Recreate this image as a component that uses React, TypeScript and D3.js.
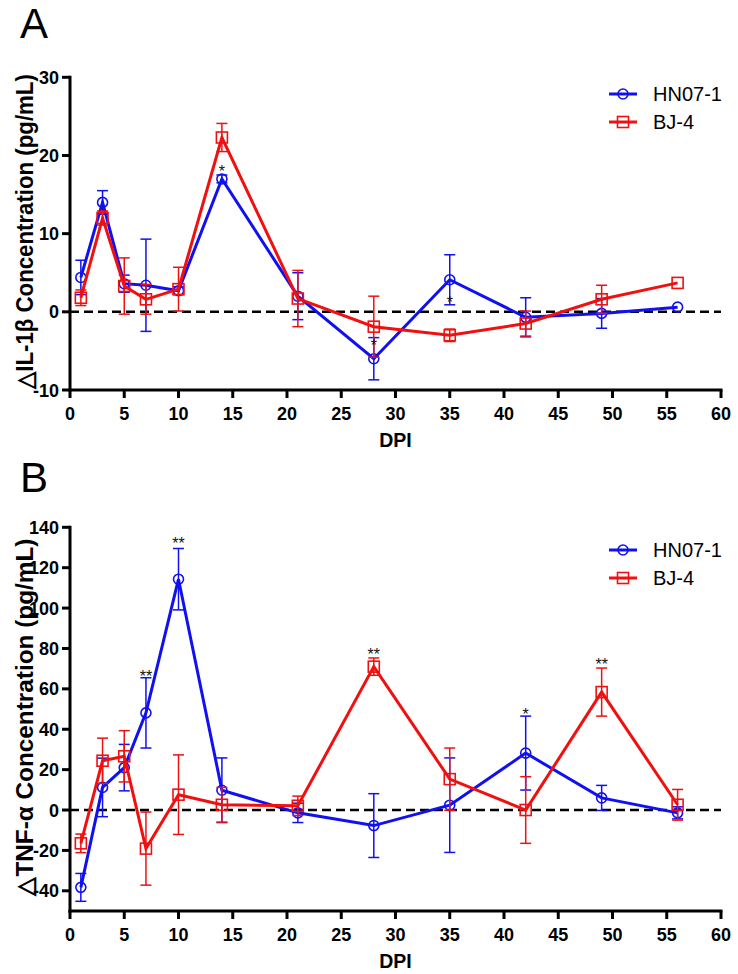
import React from "react";
import * as d3 from "d3";

// ---------- data ----------
const days = [1, 3, 5, 7, 10, 14, 21, 28, 35, 42, 49, 56];
const seriesNames = ["HN07-1", "BJ-4"];
const xTicks = [0, 5, 10, 15, 20, 25, 30, 35, 40, 45, 50, 55, 60];

// Panel A: IL-1β
const hnIL = [4.4, 14.0, 3.6, 3.4, 2.7, 17.0, 2.0, -6.0, 4.1, -0.7, -0.2, 0.6];
const hnILErr = [2.2, 1.5, 1.1, 5.9, 0.5, 0.5, 3.0, 2.7, 3.2, 2.5, 1.9, 0];
const bjIL = [1.8, 12.0, 3.3, 1.6, 2.9, 22.3, 1.7, -1.9, -3.0, -1.5, 1.6, 3.7];
const bjILErr = [1.0, 0.9, 3.6, 1.9, 2.8, 1.8, 3.6, 3.9, 0.8, 1.6, 1.8, 0];
const ilTicks = [-10, 0, 10, 20, 30];
const sigILDays = [14, 28, 35];
const sigILPos = [18.4, -3.8, 1.6];
const sigILText = ["*", "*", "*"];

// Panel B: TNF-α
const hnTNF = [-38.3, 11.2, 21.0, 48.1, 114.3, 9.8, -1.4, -7.7, 2.4, 28.2, 6.0, -1.4];
const hnTNFErr = [6.9, 14.5, 11.5, 17.4, 15.2, 16.0, 4.8, 15.8, 23.4, 18.3, 6.2, 3.0];
const bjTNF = [-16.5, 24.4, 26.6, -19.1, 7.6, 2.6, 2.1, 71.0, 15.3, 0.0, 58.4, 2.6];
const bjTNFErr = [4.6, 11.2, 12.7, 18.1, 19.7, 8.6, 4.8, 4.3, 15.4, 16.5, 11.9, 7.6];
const tnfTicks = [-40, -20, 0, 20, 40, 60, 80, 100, 120, 140];
const sigTNFDays = [7, 10, 28, 42, 49];
const sigTNFPos = [68, 133.5, 78.5, 49, 74];
const sigTNFText = ["**", "**", "**", "*", "**"];

const BLUE = "#1010f0";
const RED = "#f01010";
const FONT = "'Liberation Sans', Arial, Helvetica, sans-serif";

type PanelProps = {
  letter: string;
  letterY: number;
  yDomain: [number, number];
  yRange: [number, number];
  yTicks: number[];
  yLabel: string;
  yLabelLen: number;
  hn: number[];
  hnErr: number[];
  bj: number[];
  bjErr: number[];
  sigDays: number[];
  sigPos: number[];
  sigText: string[];
  legendY: number;
};

function Panel(p: PanelProps) {
  const x = d3.scaleLinear().domain([0, 60]).range([70, 721]);
  const y = d3.scaleLinear().domain(p.yDomain).range(p.yRange);
  const axisY = p.yRange[0];
  const topY = p.yRange[1];
  const line = d3
    .line<number>()
    .x((_, i) => x(days[i]))
    .y((v) => y(v));

  const series = [
    { name: seriesNames[0], vals: p.hn, err: p.hnErr, color: BLUE, shape: "circle" },
    { name: seriesNames[1], vals: p.bj, err: p.bjErr, color: RED, shape: "square" },
  ];

  const marker = (shape: string, cx: number, cy: number, color: string, key: any) =>
    shape === "circle" ? (
      <circle key={key} cx={cx} cy={cy} r={5} fill="none" stroke={color} strokeWidth={1.6} />
    ) : (
      <rect key={key} x={cx - 5.5} y={cy - 5.5} width={11} height={11} fill="none" stroke={color} strokeWidth={1.6} />
    );

  return (
    <g>
      <text x={20} y={p.letterY} fontSize={42} fontFamily={FONT}>
        {p.letter}
      </text>
      {/* zero line */}
      <line x1={x(0)} x2={x(60)} y1={y(0)} y2={y(0)} stroke="#000" strokeWidth={2.5} strokeDasharray="9 5" />
      {/* series */}
      {series.map((s, si) => (
        <g key={si}>
          {s.vals.map((v, i) =>
            s.err[i] > 0 ? (
              <g key={"e" + i} stroke={s.color} strokeWidth={1.5}>
                <line x1={x(days[i])} x2={x(days[i])} y1={y(v - s.err[i])} y2={y(v + s.err[i])} />
                <line x1={x(days[i]) - 5.5} x2={x(days[i]) + 5.5} y1={y(v + s.err[i])} y2={y(v + s.err[i])} />
                <line x1={x(days[i]) - 5.5} x2={x(days[i]) + 5.5} y1={y(v - s.err[i])} y2={y(v - s.err[i])} />
              </g>
            ) : null
          )}
          <path d={line(s.vals) || ""} fill="none" stroke={s.color} strokeWidth={3} strokeLinejoin="miter" />
          {s.vals.map((v, i) => marker(s.shape, x(days[i]), y(v), s.color, "m" + i))}
        </g>
      ))}
      {/* significance */}
      {p.sigDays.map((d, i) => (
        <text key={"s" + i} x={x(d)} y={y(p.sigPos[i]) + 9} fontSize={16} textAnchor="middle" fontFamily={FONT} fill="#111">
          {p.sigText[i]}
        </text>
      ))}
      {/* axes */}
      <line x1={70} x2={70} y1={topY} y2={axisY} stroke="#000" strokeWidth={3} strokeLinecap="square" />
      <line x1={70} x2={721} y1={axisY} y2={axisY} stroke="#000" strokeWidth={3} strokeLinecap="square" />
      {p.yTicks.map((t) => (
        <g key={"yt" + t}>
          <line x1={62} x2={70} y1={y(t)} y2={y(t)} stroke="#000" strokeWidth={3} />
          <text x={59} y={y(t) + 6.5} fontSize={18} fontWeight="bold" textAnchor="end" fontFamily={FONT}>
            {t}
          </text>
        </g>
      ))}
      {xTicks.map((t) => (
        <g key={"xt" + t}>
          <line x1={x(t)} x2={x(t)} y1={axisY} y2={axisY + 8} stroke="#000" strokeWidth={3} />
          <text x={x(t)} y={axisY + 30} fontSize={18} fontWeight="bold" textAnchor="middle" fontFamily={FONT}>
            {t}
          </text>
        </g>
      ))}
      <text x={(x(0) + x(60)) / 2} y={axisY + 57} fontSize={19.5} fontWeight="bold" textAnchor="middle" fontFamily={FONT}>
        DPI
      </text>
      <text
        transform={`translate(33,${(topY + axisY) / 2 - 2}) rotate(-90)`}
        fontSize={23}
        fontWeight="bold"
        textAnchor="middle"
        fontFamily={FONT}
        textLength={p.yLabelLen}
        lengthAdjust="spacingAndGlyphs"
      >
        {p.yLabel}
      </text>
      {/* legend */}
      {series.map((s, i) => {
        const ly = p.legendY + i * 28;
        return (
          <g key={"lg" + i}>
            <line x1={609} x2={637} y1={ly} y2={ly} stroke={s.color} strokeWidth={3} />
            {marker(s.shape, 623, ly, s.color, "lm")}
            <text x={653} y={ly + 7} fontSize={20} fontFamily={FONT}>
              {s.name}
            </text>
          </g>
        );
      })}
    </g>
  );
}

export default function App() {
  return (
    <svg
      width={738}
      height={974}
      style={{ position: "absolute", left: 0, top: 0, background: "#fff" }}
      fontFamily={FONT}
    >
      <rect width={738} height={974} fill="#fff" />
      <Panel
        letter="A"
        letterY={38}
        yDomain={[-10, 30]}
        yRange={[390, 77.3]}
        yTicks={ilTicks}
        yLabel="△IL-1β Concentration (pg/mL)"
        yLabelLen={315}
        hn={hnIL}
        hnErr={hnILErr}
        bj={bjIL}
        bjErr={bjILErr}
        sigDays={sigILDays}
        sigPos={sigILPos}
        sigText={sigILText}
        legendY={94}
      />
      <Panel
        letter="B"
        letterY={492}
        yDomain={[-50, 140]}
        yRange={[911, 527.3]}
        yTicks={tnfTicks}
        yLabel="△TNF-α Concentration (pg/mL)"
        yLabelLen={357}
        hn={hnTNF}
        hnErr={hnTNFErr}
        bj={bjTNF}
        bjErr={bjTNFErr}
        sigDays={sigTNFDays}
        sigPos={sigTNFPos}
        sigText={sigTNFText}
        legendY={550}
      />
    </svg>
  );
}
